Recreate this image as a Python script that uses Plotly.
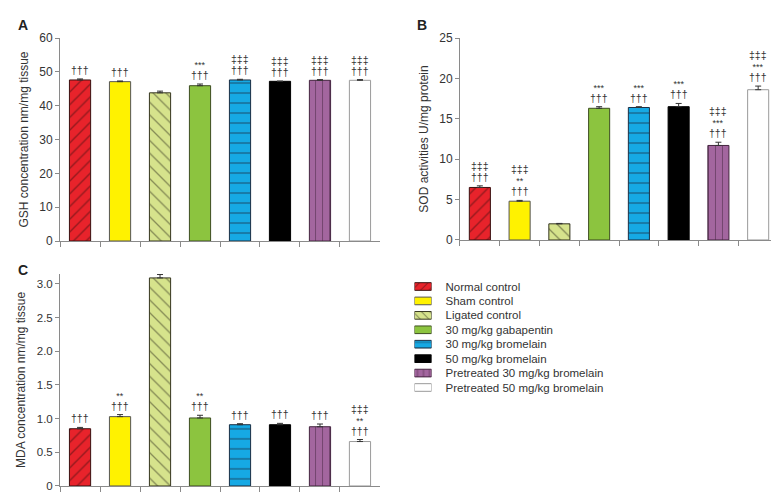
import plotly.graph_objects as go

groups = [
    "Normal control",
    "Sham control",
    "Ligated control",
    "30 mg/kg gabapentin",
    "30 mg/kg bromelain",
    "50 mg/kg bromelain",
    "Pretreated 30 mg/kg bromelain",
    "Pretreated 50 mg/kg bromelain",
]

# panel A: GSH
gsh = [47.6, 47.1, 43.8, 45.9, 47.6, 47.2, 47.5, 47.5]
gsh_err = [0.3, 0.2, 0.5, 0.5, 0.2, 0.05, 0.2, 0.2]
gsh_marks = [["†††"], ["†††"], [], ["†††", "***"], ["†††", "‡‡‡"],
             ["†††", "‡‡‡"], ["†††", "‡‡‡"], ["†††", "‡‡‡"]]

# panel B: SOD
sod = [6.5, 4.8, 2.0, 16.3, 16.4, 16.5, 11.7, 18.6]
sod_err = [0.2, 0.1, 0.05, 0.2, 0.1, 0.4, 0.4, 0.45]
sod_marks = [["†††", "‡‡‡"], ["†††", "**", "‡‡‡"], [], ["†††", "***"], ["†††", "***"],
             ["†††", "***"], ["†††", "***", "‡‡‡"], ["†††", "***", "‡‡‡"]]

# panel C: MDA
mda = [0.85, 1.03, 3.09, 1.01, 0.91, 0.91, 0.88, 0.66]
mda_err = [0.02, 0.03, 0.05, 0.04, 0.015, 0.02, 0.04, 0.03]
mda_marks = [["†††"], ["†††", "**"], [], ["†††", "**"], ["†††"],
             ["†††"], ["†††"], ["†††", "**", "‡‡‡"]]

# styling
fills = ["#e8232b", "#fff200", "#d6e38c", "#8cc43f", "#16a9e4", "#000000", "#a3669f", "#ffffff"]
shapes = ["/", "", "\\", "", "-", "", "|", ""]
pat_sizes = [9, 8, 9, 8, 10, 8, 7, 8]
outlines = ["#3a1010", "#555555", "#35351f", "#3d4d20", "#1a2f45", "#000000", "#44243f", "#9a9a9a"]
FONT = "Liberation Sans, Arial, sans-serif"
TXT = "#333333"
AXC = "#8a8a8a"

fig = go.Figure()


def add_panel(vals, errs, xa, ya):
    # one trace per bar so each keeps its own pattern colours
    for i, g in enumerate(groups):
        fig.add_trace(go.Bar(
            x=[g], y=[vals[i]], xaxis=xa, yaxis=ya, showlegend=False,
            marker=dict(
                color=fills[i],
                line=dict(color=outlines[i], width=1),
                pattern=dict(shape=shapes[i], size=pat_sizes[i], solidity=0.15,
                             fgcolor=outlines[i], fillmode="overlay"),
            ),
            error_y=dict(type="data", array=[errs[i]], arrayminus=[0],
                         symmetric=False, color="#333333", thickness=1, width=3),
        ))


add_panel(gsh, gsh_err, "x", "y")
add_panel(sod, sod_err, "x2", "y2")
add_panel(mda, mda_err, "x3", "y3")

# legend drawn as a small bar chart of swatches
for i, g in enumerate(groups):
    fig.add_trace(go.Bar(
        y=[g], x=[1], orientation="h", xaxis="x4", yaxis="y4", showlegend=False,
        marker=dict(
            color=fills[i],
            line=dict(color=outlines[i], width=1),
            pattern=dict(shape=shapes[i], size=6, solidity=0.18,
                         fgcolor=outlines[i], fillmode="overlay"),
        ),
    ))

# significance marks: one stacked text per bar
annotations = []
for marks, vals, errs, xr, yr in [
    (gsh_marks, gsh, gsh_err, "x", "y"),
    (sod_marks, sod, sod_err, "x2", "y2"),
    (mda_marks, mda, mda_err, "x3", "y3"),
]:
    for g, m, v, e in zip(groups, marks, vals, errs):
        if not m:
            continue
        lines = []
        for s in reversed(m):
            sz = 9 if s.startswith("*") else 10.5
            lines.append("<span style='font-size:%spx'>%s</span>" % (sz, s))
        annotations.append(dict(
            x=g, y=v + e, xref=xr, yref=yr, text="<br>".join(lines),
            showarrow=False, yanchor="bottom", yshift=1,
            font=dict(family=FONT, size=8.5, color=TXT),
        ))

for lab, xp, yp in [("A", 0.010, 0.985), ("B", 0.523, 0.985), ("C", 0.010, 0.487)]:
    annotations.append(dict(
        x=xp, y=yp, xref="paper", yref="paper", text="<b>%s</b>" % lab,
        showarrow=False, xanchor="left", yanchor="top",
        font=dict(family=FONT, size=14, color="#222222"),
    ))

xcommon = dict(
    type="category", showticklabels=False, ticks="outside", tickson="boundaries",
    ticklen=5, tickcolor=AXC, showline=True, linecolor=AXC, linewidth=1,
    showgrid=False, zeroline=False, range=[-0.5, 7.5], automargin=False,
)
ycommon = dict(
    ticks="outside", ticklen=4, tickcolor=AXC, showline=True, linecolor=AXC,
    linewidth=1, showgrid=False, zeroline=False, automargin=False,
    tickfont=dict(family=FONT, size=12, color=TXT),
    title=dict(font=dict(family=FONT, size=12, color=TXT), standoff=8),
)

fig.update_layout(
    template="none",
    width=779, height=492,
    margin=dict(l=0, r=0, t=0, b=0, autoexpand=False),
    paper_bgcolor="white", plot_bgcolor="white",
    font=dict(family=FONT, color=TXT),
    barmode="overlay",
    bargap=0.47,
    annotations=annotations,
    xaxis=dict(xcommon, domain=[0.0668, 0.4775], anchor="y"),
    yaxis=dict(ycommon, domain=[0.5264, 0.939], anchor="x", range=[0, 60], dtick=10,
               title_text="GSH concentration nm/mg tissue"),
    xaxis2=dict(xcommon, domain=[0.5802, 0.9885], anchor="y2"),
    yaxis2=dict(ycommon, domain=[0.5285, 0.939], anchor="x2", range=[0, 25], dtick=5,
                title_text="SOD activities U/mg protein"),
    xaxis3=dict(xcommon, domain=[0.0668, 0.4775], anchor="y3"),
    yaxis3=dict(ycommon, domain=[0.0285, 0.4596], anchor="x3", range=[0, 3.15],
                tickvals=[0, 0.5, 1, 1.5, 2, 2.5, 3],
                ticktext=["0", "0.5", "1.0", "1.5", "2.0", "2.5", "3.0"],
                tickfont=dict(family=FONT, size=11.5, color=TXT),
                title_text="MDA concentration nm/mg tissue"),
    xaxis4=dict(domain=[0.5218, 0.5437], anchor="y4", range=[0, 1], visible=False),
    yaxis4=dict(domain=[0.214, 0.4486], anchor="x4", type="category",
                categoryorder="array", categoryarray=groups,
                autorange="reversed", side="right", ticks="", showline=False,
                showgrid=False, zeroline=False, ticklabelstandoff=13, automargin=False,
                tickfont=dict(family=FONT, size=11.5, color=TXT)),
)

fig.write_html("out.html")
